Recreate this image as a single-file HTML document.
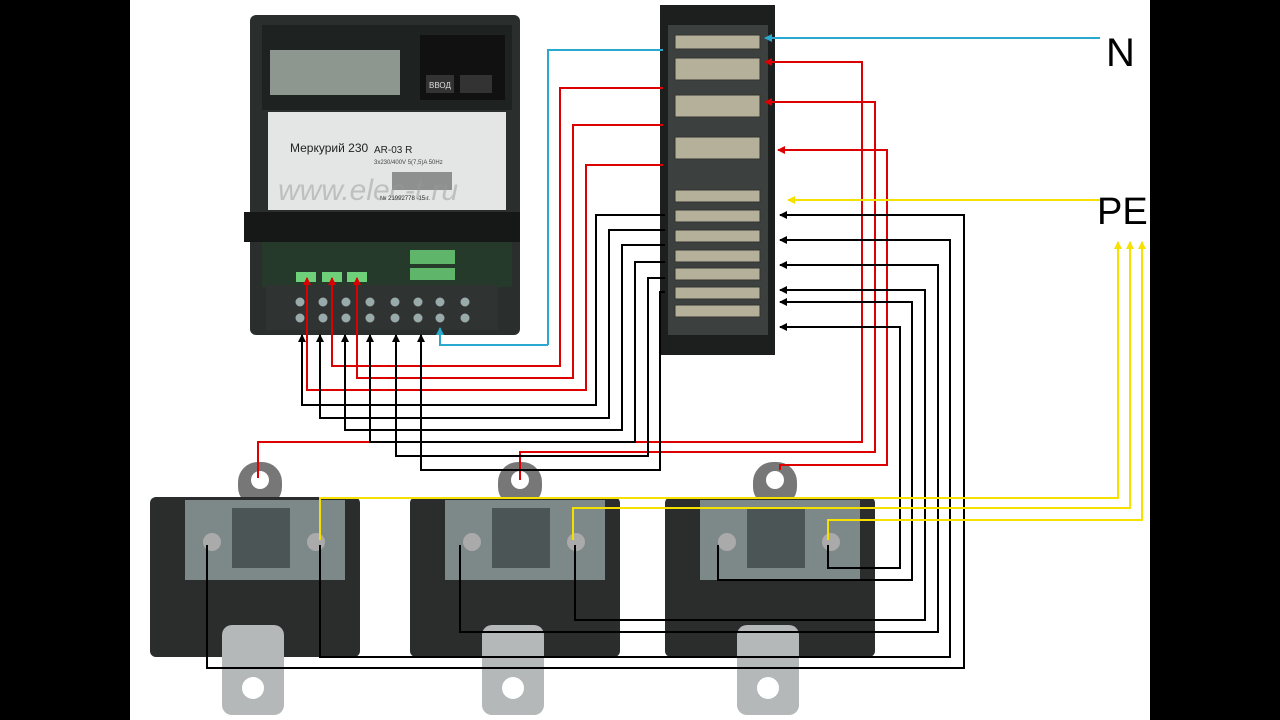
<!DOCTYPE html>
<html><head><style>body{margin:0;background:#000}svg{display:block}</style></head><body>
<svg width="1280" height="720" xmlns="http://www.w3.org/2000/svg" font-family="Liberation Sans, sans-serif">
<defs>
<marker id="ak" markerWidth="8" markerHeight="8" refX="7" refY="4" orient="auto" markerUnits="userSpaceOnUse"><path d="M0,0L8,4L0,8z" fill="#000"/></marker>
<marker id="ar" markerWidth="8" markerHeight="8" refX="7" refY="4" orient="auto" markerUnits="userSpaceOnUse"><path d="M0,0L8,4L0,8z" fill="#d00"/></marker>
<marker id="ab" markerWidth="8" markerHeight="8" refX="7" refY="4" orient="auto" markerUnits="userSpaceOnUse"><path d="M0,0L8,4L0,8z" fill="#29a9d0"/></marker>
<marker id="ay" markerWidth="8" markerHeight="8" refX="7" refY="4" orient="auto" markerUnits="userSpaceOnUse"><path d="M0,0L8,4L0,8z" fill="#f5e000"/></marker>
</defs>
<rect x="130" y="0" width="1020" height="720" fill="#fff"/>
<!-- meter -->
<rect x="250" y="15" width="270" height="320" rx="6" fill="#2a2e2c"/>
<rect x="262" y="25" width="250" height="85" fill="#1e2321"/>
<rect x="270" y="50" width="130" height="45" fill="#8d978f"/>
<rect x="420" y="35" width="85" height="65" fill="#111"/>
<rect x="426" y="75" width="28" height="18" fill="#333"/><text x="429" y="88" font-size="8" fill="#ddd">ВВОД</text>
<rect x="460" y="75" width="32" height="18" fill="#333"/>
<rect x="268" y="112" width="238" height="98" fill="#e4e6e6"/>
<text x="290" y="152" font-size="12" fill="#222">Меркурий 230</text>
<text x="374" y="153" font-size="10" fill="#222">AR-03  R</text>
<text x="374" y="164" font-size="6" fill="#444">3x230/400V  5(7,5)A 50Hz</text>
<text x="380" y="200" font-size="6" fill="#222">№ 21992778 -15 г.</text>
<rect x="392" y="172" width="60" height="18" fill="#555" opacity=".6"/>
<text x="278" y="200" font-size="30" font-style="italic" fill="#999" opacity=".5">www.elec-t.ru</text>
<rect x="244" y="212" width="276" height="30" fill="#151817"/>
<rect x="262" y="242" width="250" height="45" fill="#253a2b"/>
<rect x="410" y="250" width="45" height="14" fill="#5fb56a"/><rect x="410" y="268" width="45" height="12" fill="#5fb56a"/>
<rect x="296" y="272" width="20" height="10" fill="#6fd07a"/><rect x="322" y="272" width="20" height="10" fill="#6fd07a"/><rect x="347" y="272" width="20" height="10" fill="#6fd07a"/>
<rect x="266" y="285" width="232" height="45" fill="#2f3331"/>
<g fill="#9aa" stroke="#333"><circle cx="300" cy="302" r="5"/><circle cx="323" cy="302" r="5"/><circle cx="346" cy="302" r="5"/><circle cx="370" cy="302" r="5"/><circle cx="395" cy="302" r="5"/><circle cx="418" cy="302" r="5"/><circle cx="440" cy="302" r="5"/><circle cx="465" cy="302" r="5"/>
<circle cx="300" cy="318" r="5"/><circle cx="323" cy="318" r="5"/><circle cx="346" cy="318" r="5"/><circle cx="370" cy="318" r="5"/><circle cx="395" cy="318" r="5"/><circle cx="418" cy="318" r="5"/><circle cx="440" cy="318" r="5"/><circle cx="465" cy="318" r="5"/></g>
<!-- terminal block -->
<rect x="660" y="5" width="115" height="350" fill="#1d1f1e"/>
<rect x="668" y="25" width="100" height="310" fill="#3c403e"/>
<g fill="#b5b09a" stroke="#333">
<rect x="675" y="35" width="85" height="14"/><rect x="675" y="58" width="85" height="22"/><rect x="675" y="95" width="85" height="22"/><rect x="675" y="137" width="85" height="22"/>
<rect x="675" y="190" width="85" height="12"/><rect x="675" y="210" width="85" height="12"/><rect x="675" y="230" width="85" height="12"/><rect x="675" y="250" width="85" height="12"/><rect x="675" y="268" width="85" height="12"/><rect x="675" y="287" width="85" height="12"/><rect x="675" y="305" width="85" height="12"/></g>
<!-- CTs -->
<g id="ct">
<rect x="238" y="462" width="44" height="45" rx="20" fill="#777"/><circle cx="260" cy="480" r="9" fill="#fff"/>
<rect x="150" y="497" width="210" height="160" rx="6" fill="#2b2d2d"/>
<rect x="185" y="500" width="160" height="80" fill="#7d8889"/>
<rect x="232" y="508" width="58" height="60" fill="#4c5556"/>
<circle cx="212" cy="542" r="9" fill="#aaa"/><circle cx="316" cy="542" r="9" fill="#aaa"/>
<rect x="222" y="625" width="62" height="90" rx="10" fill="#b5b8b8"/><circle cx="253" cy="688" r="11" fill="#fff"/>
</g>
<use href="#ct" x="260"/><use href="#ct" x="515"/>
<g fill="none" stroke-width="2">
<path d="M548,345 L548,50 L663,50" stroke="#29a9d0"/>
<path d="M548,345 L440,345 L440,328" stroke="#29a9d0" marker-end="url(#ab)"/>
<path d="M1100,38 L765,38" stroke="#29a9d0" marker-end="url(#ab)"/>
<path d="M663,88 L560,88 L560,366 L332,366 L332,278" stroke="#d00" marker-end="url(#ar)"/>
<path d="M663,125 L573,125 L573,378 L357,378 L357,278" stroke="#d00" marker-end="url(#ar)"/>
<path d="M663,165 L586,165 L586,390 L307,390 L307,278" stroke="#d00" marker-end="url(#ar)"/>
<path d="M258,478 L258,442 L862,442 L862,62 L765,62" stroke="#d00" marker-end="url(#ar)"/>
<path d="M520,480 L520,452 L875,452 L875,102 L765,102" stroke="#d00" marker-end="url(#ar)"/>
<path d="M780,470 L780,465 L887,465 L887,150 L778,150" stroke="#d00" marker-end="url(#ar)"/>
<path d="M665,215 L596,215 L596,405 L302,405 L302,335" stroke="#000" marker-end="url(#ak)"/>
<path d="M665,230 L609,230 L609,418 L320,418 L320,335" stroke="#000" marker-end="url(#ak)"/>
<path d="M665,245 L622,245 L622,430 L345,430 L345,335" stroke="#000" marker-end="url(#ak)"/>
<path d="M665,262 L635,262 L635,442 L370,442 L370,335" stroke="#000" marker-end="url(#ak)"/>
<path d="M665,278 L648,278 L648,456 L396,456 L396,335" stroke="#000" marker-end="url(#ak)"/>
<path d="M665,292 L660,292 L660,470 L421,470 L421,335" stroke="#000" marker-end="url(#ak)"/>
<path d="M207,545 L207,668 L964,668 L964,215 L780,215" stroke="#000" marker-end="url(#ak)"/>
<path d="M320,545 L320,657 L950,657 L950,240 L780,240" stroke="#000" marker-end="url(#ak)"/>
<path d="M460,545 L460,632 L938,632 L938,265 L780,265" stroke="#000" marker-end="url(#ak)"/>
<path d="M575,545 L575,620 L925,620 L925,290 L780,290" stroke="#000" marker-end="url(#ak)"/>
<path d="M718,545 L718,580 L912,580 L912,302 L780,302" stroke="#000" marker-end="url(#ak)"/>
<path d="M828,545 L828,568 L900,568 L900,327 L780,327" stroke="#000" marker-end="url(#ak)"/>
<path d="M1100,200 L788,200" stroke="#f5e000" marker-end="url(#ay)"/>
<path d="M320,540 L320,498 L1118,498 L1118,242" stroke="#f5e000" marker-end="url(#ay)"/>
<path d="M573,540 L573,508 L1130,508 L1130,242" stroke="#f5e000" marker-end="url(#ay)"/>
<path d="M828,540 L828,520 L1142,520 L1142,242" stroke="#f5e000" marker-end="url(#ay)"/>
</g>
<text x="1106" y="66" font-size="40" fill="#000">N</text>
<text x="1097" y="224" font-size="38" fill="#000">PE</text>
</svg>
</body></html>
